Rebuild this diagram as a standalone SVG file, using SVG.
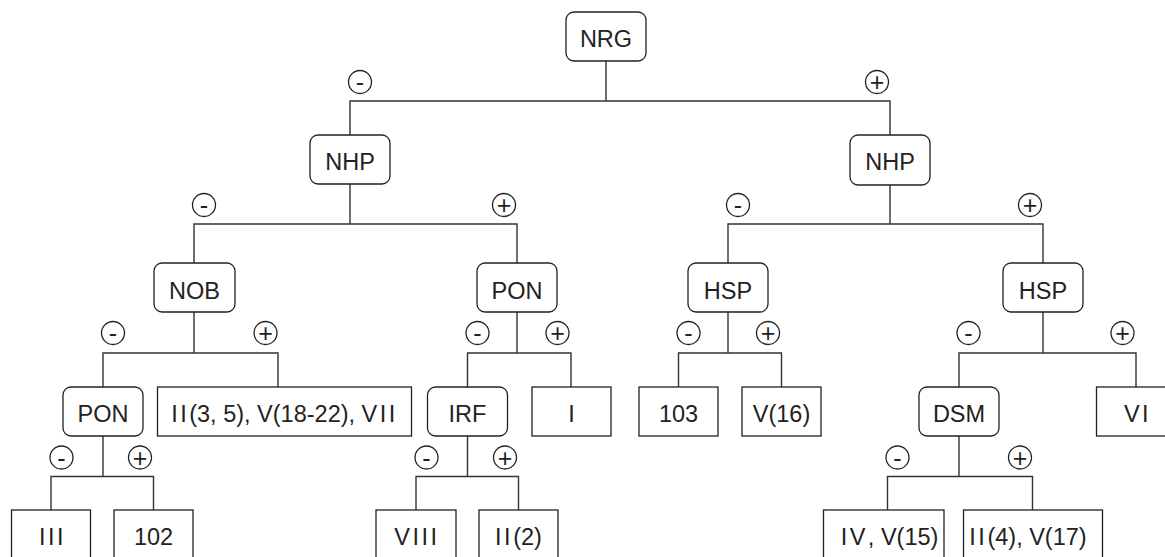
<svg xmlns="http://www.w3.org/2000/svg" width="1165" height="557" viewBox="0 0 1165 557">
<style>
.box{fill:#fff;stroke:#222;stroke-width:1.3}
.lbl{font-family:"Liberation Sans",Arial,sans-serif;font-size:23.5px;fill:#222;text-anchor:middle}
.r{letter-spacing:2.5px}
.sg circle{fill:#fff;stroke:#222;stroke-width:1.3}
.sg text{font-family:"Liberation Sans",Arial,sans-serif;font-size:25px;fill:#222;text-anchor:middle}
.conn path{fill:none;stroke:#333;stroke-width:1.4}
</style>
<rect width="1165" height="557" fill="#fff"/>
<g class="conn">
<path d="M606 61V101M350 135V101H890V135"/>
<path d="M350 184V224M194 263V224H517V263"/>
<path d="M890 185V224M728 263V224H1043V263"/>
<path d="M194 312V353M103 387V353H278V387"/>
<path d="M517 312V353M467.5 387V353H571V387"/>
<path d="M728 312V353M678.5 387V353H781.5V387"/>
<path d="M1043 312V353M959 387V353H1136V387"/>
<path d="M103 436V476.5M51 510V476.5H153.5V510"/>
<path d="M467.5 436V476.5M416 510V476.5H518.5V510"/>
<path d="M959 436V476.5M887.5 510V476.5H1032.5V510"/>
</g>
<g class="sg">
<circle cx="360" cy="82" r="11.5"/><text x="360" y="91">-</text>
<circle cx="877" cy="82" r="11.5"/><text x="877" y="91">+</text>
<circle cx="204" cy="205" r="11.5"/><text x="204" y="214">-</text>
<circle cx="504" cy="205" r="11.5"/><text x="504" y="214">+</text>
<circle cx="738" cy="205" r="11.5"/><text x="738" y="214">-</text>
<circle cx="1030" cy="205" r="11.5"/><text x="1030" y="214">+</text>
<circle cx="113" cy="333" r="11.5"/><text x="113" y="342">-</text>
<circle cx="265.5" cy="333" r="11.5"/><text x="265.5" y="342">+</text>
<circle cx="477.5" cy="333" r="11.5"/><text x="477.5" y="342">-</text>
<circle cx="557.5" cy="333" r="11.5"/><text x="557.5" y="342">+</text>
<circle cx="688.5" cy="333" r="11.5"/><text x="688.5" y="342">-</text>
<circle cx="768" cy="333" r="11.5"/><text x="768" y="342">+</text>
<circle cx="968.5" cy="333" r="11.5"/><text x="968.5" y="342">-</text>
<circle cx="1122.5" cy="333" r="11.5"/><text x="1122.5" y="342">+</text>
<circle cx="61.5" cy="457.5" r="11.5"/><text x="61.5" y="466.5">-</text>
<circle cx="140" cy="457.5" r="11.5"/><text x="140" y="466.5">+</text>
<circle cx="426.5" cy="457.5" r="11.5"/><text x="426.5" y="466.5">-</text>
<circle cx="505" cy="457.5" r="11.5"/><text x="505" y="466.5">+</text>
<circle cx="897.5" cy="457.5" r="11.5"/><text x="897.5" y="466.5">-</text>
<circle cx="1020" cy="457.5" r="11.5"/><text x="1020" y="466.5">+</text>
</g>
<g id="n-nrg"><rect class="box" x="566" y="12" width="80" height="49" rx="8"/><text class="lbl" x="606" y="47">NRG</text></g>
<g id="n-nhp-l"><rect class="box" x="310" y="135" width="80" height="49" rx="8"/><text class="lbl" x="350" y="170">NHP</text></g>
<g id="n-nhp-r"><rect class="box" x="850" y="135" width="80" height="50" rx="8"/><text class="lbl" x="890" y="170">NHP</text></g>
<g id="n-nob"><rect class="box" x="154" y="263" width="81" height="49" rx="8"/><text class="lbl" x="194.5" y="298.5">NOB</text></g>
<g id="n-pon-r"><rect class="box" x="477" y="263" width="80" height="49" rx="8"/><text class="lbl" x="517" y="298.5">PON</text></g>
<g id="n-hsp-l"><rect class="box" x="688" y="263" width="80" height="49" rx="8"/><text class="lbl" x="728" y="298.5">HSP</text></g>
<g id="n-hsp-r"><rect class="box" x="1003" y="263" width="80" height="49" rx="8"/><text class="lbl" x="1043" y="298.5">HSP</text></g>
<g id="n-pon-l"><rect class="box" x="63" y="387" width="80" height="49" rx="8"/><text class="lbl" x="103" y="422">PON</text></g>
<g id="n-leaf-ii35"><rect class="box" x="157.5" y="387" width="254" height="49"/><text class="lbl" x="284.5" y="422"><tspan class="r">II</tspan>(3, 5), V(18-22), <tspan class="r">VII</tspan></text></g>
<g id="n-irf"><rect class="box" x="427.5" y="387" width="80" height="49" rx="8"/><text class="lbl" x="467.5" y="422">IRF</text></g>
<g id="n-leaf-i"><rect class="box" x="532" y="387" width="79" height="49"/><text class="lbl" x="571.5" y="422">I</text></g>
<g id="n-leaf-103"><rect class="box" x="639" y="387" width="79" height="49"/><text class="lbl" x="678.5" y="422">103</text></g>
<g id="n-leaf-v16"><rect class="box" x="742" y="387" width="79" height="49"/><text class="lbl" x="781.5" y="422">V(16)</text></g>
<g id="n-dsm"><rect class="box" x="919" y="387" width="80" height="49" rx="8"/><text class="lbl" x="959" y="422">DSM</text></g>
<g id="n-leaf-vi"><rect class="box" x="1096.5" y="387" width="80" height="49"/><text class="lbl r" x="1137.5" y="422">VI</text></g>
<g id="n-leaf-iii"><rect class="box" x="11.5" y="510" width="79" height="49"/><text class="lbl r" x="52.5" y="545">III</text></g>
<g id="n-leaf-102"><rect class="box" x="114" y="510" width="79" height="49"/><text class="lbl" x="153.5" y="545">102</text></g>
<g id="n-leaf-viii"><rect class="box" x="376" y="510" width="80" height="49"/><text class="lbl r" x="417" y="545">VIII</text></g>
<g id="n-leaf-ii2"><rect class="box" x="479" y="510" width="79" height="49"/><text class="lbl" x="518.5" y="545"><tspan class="r">II</tspan>(2)</text></g>
<g id="n-leaf-iv"><rect class="box" x="823.5" y="510" width="120.5" height="49"/><text class="lbl" x="889.5" y="545"><tspan class="r">IV</tspan>, V(15)</text></g>
<g id="n-leaf-ii4"><rect class="box" x="963.5" y="510" width="139" height="49"/><text class="lbl" x="1028" y="545"><tspan class="r">II</tspan>(4), V(17)</text></g>
</svg>
